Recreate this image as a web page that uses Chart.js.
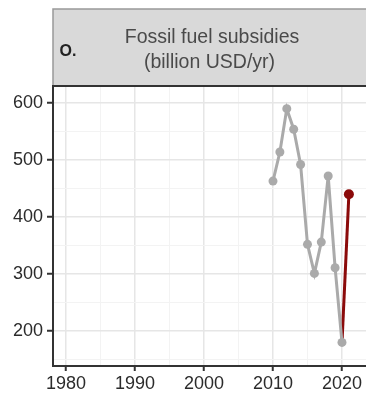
<!DOCTYPE html>
<html>
<head>
<meta charset="utf-8">
<script src="https://cdn.jsdelivr.net/npm/chart.js@4.4.1/dist/chart.umd.min.js"></script>
<style>
  html, body { margin: 0; padding: 0; background: #fff; overflow: hidden; }
  #wrap { width: 366px; height: 394px; position: relative; overflow: hidden; }
  #c { position: absolute; left: 0; top: 0; }
</style>
</head>
<body>
<div id="wrap"><canvas id="c" width="420" height="394"></canvas></div>
<script>
// Fossil fuel subsidies, billion USD per year
const years = [2010, 2011, 2012, 2013, 2014, 2015, 2016, 2017, 2018, 2019, 2020];
const subsidies = [463, 514, 590, 554, 492, 352, 301, 356, 472, 311, 180];
// Latest change shown separately
const recentYears = [2020, 2021];
const recentValues = [180, 440];

const panelLetter = 'O.';
const titleLines = ['Fossil fuel subsidies', '(billion USD/yr)'];
const xMajorTicks = [1980, 1990, 2000, 2010, 2020];
const xMinorTicks = [1985, 1995, 2005, 2015, 2025];
const yMajorTicks = [200, 300, 400, 500, 600];
const yMinorTicks = [150, 250, 350, 450, 550];

const FONT = '"Liberation Sans", Arial, sans-serif';

const toPoints = (xs, ys) => xs.map((x, i) => ({ x: x, y: ys[i] }));
const isMajor = (list, v) => list.includes(v);

// Grey strip header above the panel, plus the panel border
const stripPlugin = {
  id: 'strip',
  beforeDraw(chart) {
    const { ctx, chartArea } = chart;
    ctx.save();
    ctx.fillStyle = '#d9d9d9';
    ctx.fillRect(chartArea.left, 9, chart.width - chartArea.left, chartArea.top - 9);
    ctx.strokeStyle = '#999999';
    ctx.lineWidth = 1.5;
    ctx.beginPath();
    ctx.moveTo(chartArea.left, chartArea.top);
    ctx.lineTo(chartArea.left, 9);
    ctx.lineTo(chart.width, 9);
    ctx.stroke();
    ctx.fillStyle = '#4a4a4a';
    ctx.font = '19.5px ' + FONT;
    ctx.textAlign = 'center';
    ctx.textBaseline = 'alphabetic';
    ctx.fillText(titleLines[0], 212, 42.5);
    ctx.fillText(titleLines[1], 209.5, 68);
    ctx.textAlign = 'left';
    ctx.fillStyle = '#222222';
    ctx.font = 'bold 16px ' + FONT;
    ctx.fillText(panelLetter, 59.5, 56);
    ctx.restore();
  },
  afterDraw(chart) {
    const { ctx, chartArea } = chart;
    ctx.save();
    ctx.strokeStyle = '#333333';
    ctx.lineWidth = 2;
    ctx.beginPath();
    ctx.moveTo(chart.width, chartArea.top);
    ctx.lineTo(chartArea.left, chartArea.top);
    ctx.lineTo(chartArea.left, chartArea.bottom);
    ctx.lineTo(chart.width, chartArea.bottom);
    ctx.stroke();
    ctx.restore();
  }
};

new Chart(document.getElementById('c'), {
  type: 'line',
  data: {
    datasets: [
      {
        data: toPoints(years, subsidies),
        borderColor: '#aaaaaa',
        backgroundColor: '#aaaaaa',
        borderWidth: 3,
        pointRadius: 4.5,
        pointBorderWidth: 0,
        pointBackgroundColor: '#aaaaaa',
        tension: 0,
        order: 0
      },
      {
        data: toPoints(recentYears, recentValues),
        borderColor: '#8b0a0a',
        backgroundColor: '#8b0a0a',
        borderWidth: 3,
        pointRadius: [0, 5],
        pointBorderWidth: 0,
        pointBackgroundColor: '#8b0a0a',
        tension: 0,
        order: 1
      }
    ]
  },
  options: {
    responsive: false,
    animation: false,
    events: [],
    layout: { padding: { top: 86, right: 0, left: 0, bottom: 0 } },
    plugins: { legend: { display: false }, tooltip: { enabled: false }, title: { display: false } },
    scales: {
      x: {
        type: 'linear',
        min: 1978.12,
        max: 2030.58,
        afterBuildTicks: (s) => { s.ticks = xMajorTicks.concat(xMinorTicks).sort((a, b) => a - b).map(v => ({ value: v })); },
        afterFit: (s) => { s.height = 28; },
        border: { display: false },
        grid: {
          color: (c) => isMajor(xMajorTicks, c.tick.value) ? '#e6e6e6' : '#f3f3f3',
          lineWidth: (c) => isMajor(xMajorTicks, c.tick.value) ? 1.5 : 1,
          tickColor: (c) => isMajor(xMajorTicks, c.tick.value) ? '#333333' : 'rgba(0,0,0,0)',
          tickLength: 5,
          tickWidth: 2
        },
        ticks: {
          autoSkip: false,
          maxRotation: 0,
          padding: 2,
          color: '#2b2b2b',
          font: { family: FONT, size: 18 },
          callback: (v) => isMajor(xMajorTicks, v) ? String(v) : ''
        }
      },
      y: {
        type: 'linear',
        min: 138.6,
        max: 629.8,
        afterBuildTicks: (s) => { s.ticks = yMajorTicks.concat(yMinorTicks).sort((a, b) => a - b).map(v => ({ value: v })); },
        afterFit: (s) => { s.width = 53; },
        border: { display: false },
        grid: {
          color: (c) => isMajor(yMajorTicks, c.tick.value) ? '#e6e6e6' : '#f3f3f3',
          lineWidth: (c) => isMajor(yMajorTicks, c.tick.value) ? 1.5 : 1,
          tickColor: (c) => isMajor(yMajorTicks, c.tick.value) ? '#333333' : 'rgba(0,0,0,0)',
          tickLength: 6,
          tickWidth: 2
        },
        ticks: {
          autoSkip: false,
          padding: 4,
          color: '#2b2b2b',
          font: { family: FONT, size: 18 },
          callback: (v) => isMajor(yMajorTicks, v) ? String(v) : ''
        }
      }
    }
  },
  plugins: [stripPlugin]
});
</script>
</body>
</html>
